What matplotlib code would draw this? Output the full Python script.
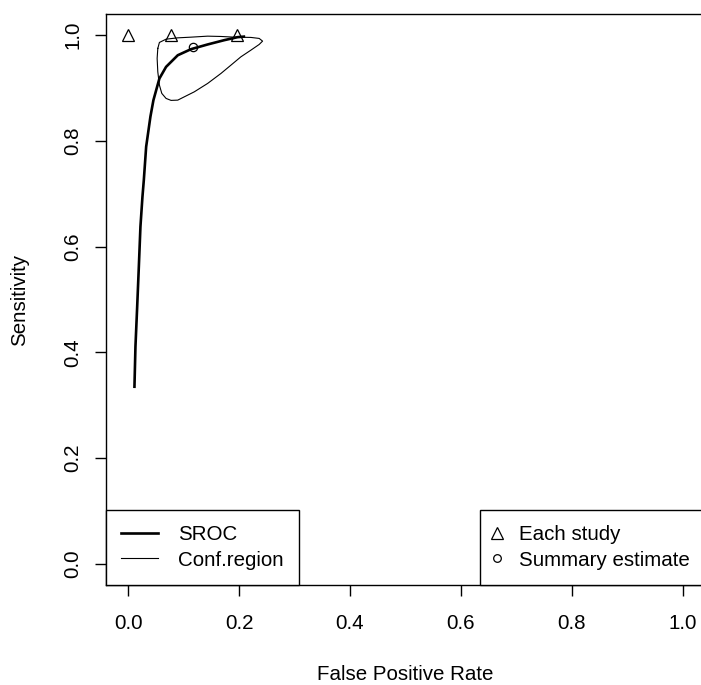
import numpy as np
import matplotlib
matplotlib.use("Agg")
import matplotlib.pyplot as plt
from matplotlib.lines import Line2D

plt.rcParams['font.family'] = ['Liberation Sans', 'DejaVu Sans']
FS = 14.8

# each study (false positive rate, sensitivity)
study_fpr = [0.0, 0.078, 0.196]
study_sens = [1.0, 1.0, 1.0]

# summary estimate
sum_fpr = [0.116]
sum_sens = [0.977]

# SROC curve
sroc_fpr = [0.0113, 0.0131, 0.0162, 0.0192, 0.0221, 0.0257, 0.0282, 0.0324,
            0.0401, 0.0455, 0.0563, 0.0683, 0.0894, 0.1133, 0.1433, 0.1732,
            0.1973, 0.2086]
sroc_sens = [0.335, 0.411, 0.486, 0.562, 0.638, 0.694, 0.726, 0.789,
             0.846, 0.877, 0.918, 0.940, 0.962, 0.9735, 0.9824, 0.9905,
             0.9962, 0.9972]

# confidence region outline
conf_fpr = [0.0534, 0.0563, 0.0683, 0.0894, 0.1133, 0.1433, 0.1673, 0.1912,
            0.2212, 0.2362, 0.2423, 0.2362, 0.2212, 0.2032, 0.1853, 0.1673,
            0.1433, 0.1192, 0.1013, 0.0894, 0.0773, 0.0683, 0.0606, 0.0563,
            0.0534, 0.0522, 0.0534]
conf_sens = [0.9749, 0.9862, 0.9924, 0.9949, 0.9962, 0.9981, 0.9975, 0.9962,
             0.9957, 0.9938, 0.9887, 0.9824, 0.9716, 0.9590, 0.9433, 0.9276,
             0.9087, 0.8928, 0.8834, 0.8771, 0.8766, 0.8803, 0.8898, 0.9055,
             0.9306, 0.9560, 0.9749]

ticks = [0.0, 0.2, 0.4, 0.6, 0.8, 1.0]
tick_labels = ['0.0', '0.2', '0.4', '0.6', '0.8', '1.0']

fig = plt.figure(figsize=(7.01, 6.85), dpi=100)
ax = fig.add_axes([106 / 701, 100 / 685, 599 / 701, 571 / 685])

ax.plot(sroc_fpr, sroc_sens, color='black', linewidth=1.9)
ax.plot(conf_fpr, conf_sens, color='black', linewidth=0.8)
ax.plot(study_fpr, study_sens, linestyle='none', marker='^', markersize=9,
        markerfacecolor='none', markeredgecolor='black', markeredgewidth=0.9)
ax.plot(sum_fpr, sum_sens, linestyle='none', marker='o', markersize=6,
        markerfacecolor='none', markeredgecolor='black', markeredgewidth=0.9)

ax.set_xlim(-0.04, 1.04)
ax.set_ylim(-0.04, 1.04)
ax.set_xticks(ticks)
ax.set_xticklabels(tick_labels)
ax.set_yticks(ticks)
ax.set_yticklabels(tick_labels, rotation=90, va='center')
ax.tick_params(axis='both', length=8, width=1, labelsize=FS, color='black')
ax.tick_params(axis='x', pad=13)
ax.tick_params(axis='y', pad=9)
for s in ax.spines.values():
    s.set_linewidth(1)
    s.set_color('black')

ax.set_xlabel('False Positive Rate', fontsize=FS, va='center')
ax.xaxis.set_label_coords(0.5, (585 - 675) / 571)
ax.set_ylabel('Sensitivity', fontsize=FS, va='center')
ax.yaxis.set_label_coords((20 - 106) / 599, 0.5)

h1 = [Line2D([], [], color='black', linewidth=1.9),
      Line2D([], [], color='black', linewidth=0.8)]
leg1 = ax.legend(h1, ['SROC', 'Conf.region'], loc='lower left',
                 borderaxespad=0, fancybox=False, framealpha=1,
                 edgecolor='black', fontsize=FS, handlelength=1.8,
                 handletextpad=0.95, borderpad=0.75, labelspacing=0.3)
leg1.get_frame().set_linewidth(1)
ax.add_artist(leg1)

h2 = [Line2D([], [], linestyle='none', marker='^', markersize=8,
             markerfacecolor='none', markeredgecolor='black', markeredgewidth=0.9),
      Line2D([], [], linestyle='none', marker='o', markersize=5.5,
             markerfacecolor='none', markeredgecolor='black', markeredgewidth=0.9)]
leg2 = ax.legend(h2, ['Each study', 'Summary estimate'], loc='lower right',
                 borderaxespad=0, fancybox=False, framealpha=1,
                 edgecolor='black', fontsize=FS, handlelength=0.2,
                 handletextpad=0.95, borderpad=0.75, labelspacing=0.3,
                 numpoints=1)
leg2.get_frame().set_linewidth(1)

fig.savefig('out.png', dpi=100)
